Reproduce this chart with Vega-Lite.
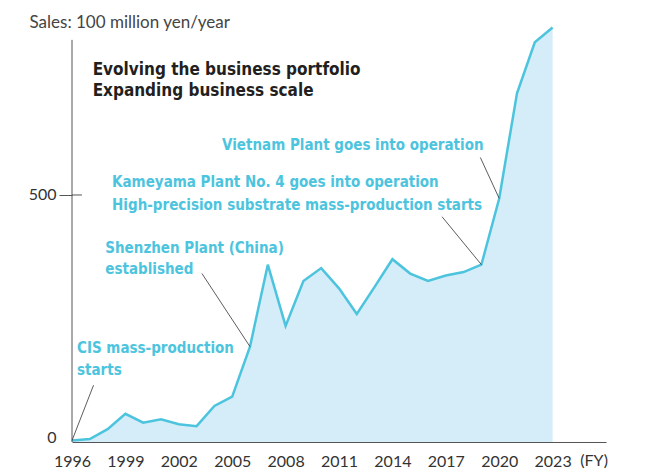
{
  "$schema": "https://vega.github.io/schema/vega-lite/v6.json",
  "width": 534,
  "height": 412,
  "autosize": "none",
  "padding": {"left": 72, "top": 30, "right": 40, "bottom": 28},
  "background": "white",
  "config": {"view": {"stroke": null}},
  "datasets": {
    "sales": [
      {"year": 1996, "sales": 3}, {"year": 1997, "sales": 6}, {"year": 1998, "sales": 26},
      {"year": 1999, "sales": 57}, {"year": 2000, "sales": 39}, {"year": 2001, "sales": 46},
      {"year": 2002, "sales": 36}, {"year": 2003, "sales": 32}, {"year": 2004, "sales": 73},
      {"year": 2005, "sales": 92}, {"year": 2006, "sales": 193}, {"year": 2007, "sales": 359},
      {"year": 2008, "sales": 235}, {"year": 2009, "sales": 326}, {"year": 2010, "sales": 352},
      {"year": 2011, "sales": 311}, {"year": 2012, "sales": 259}, {"year": 2013, "sales": 314},
      {"year": 2014, "sales": 370}, {"year": 2015, "sales": 341}, {"year": 2016, "sales": 326},
      {"year": 2017, "sales": 337}, {"year": 2018, "sales": 344}, {"year": 2019, "sales": 359},
      {"year": 2020, "sales": 493}, {"year": 2021, "sales": 706}, {"year": 2022, "sales": 809},
      {"year": 2023, "sales": 839}
    ],
    "leaders": [
      {"x": 1996, "y": 3, "x2": 1997.21, "y2": 115},
      {"x": 2003.3, "y": 341, "x2": 2006, "y2": 193},
      {"x": 2016.79, "y": 456, "x2": 2019, "y2": 359},
      {"x": 2018.94, "y": 576, "x2": 2020, "y2": 493}
    ],
    "notes": [
      {"x": 1996.28, "y": 190, "label": "CIS mass-production"},
      {"x": 1996.28, "y": 146, "label": "starts"},
      {"x": 1997.87, "y": 392, "label": "Shenzhen Plant (China)"},
      {"x": 1997.87, "y": 350, "label": "established"},
      {"x": 1998.25, "y": 527, "label": "Kameyama Plant No. 4 goes into operation"},
      {"x": 1998.25, "y": 480, "label": "High-precision substrate mass-production starts"},
      {"x": 2004.43, "y": 601, "label": "Vietnam Plant goes into operation"}
    ],
    "heading": [
      {"x": 1997.16, "y": 753, "label": "Evolving the business portfolio"},
      {"x": 1997.16, "y": 710, "label": "Expanding business scale"}
    ]
  },
  "layer": [
    {
      "data": {"name": "sales"},
      "mark": {"type": "area", "color": "#d5ecf9"},
      "encoding": {
        "x": {
          "field": "year", "type": "quantitative",
          "scale": {"domain": [1996, 2026], "nice": false, "zero": false},
          "axis": {
            "values": [1996, 1999, 2002, 2005, 2008, 2011, 2014, 2017, 2020, 2023],
            "format": "d", "title": null, "grid": false, "ticks": false,
            "domainColor": "#555555", "domainWidth": 1,
            "labelFont": "Lato", "labelFontSize": 16, "labelColor": "#333333",
            "labelPadding": 11, "labelFlush": false
          }
        },
        "y": {
          "field": "sales", "type": "quantitative",
          "scale": {"domain": [0, 834], "nice": false},
          "axis": {
            "values": [0, 500], "grid": false, "domain": false,
            "tickSize": 13, "tickColor": {"condition": {"test": "datum.value === 0", "value": "transparent"}, "value": "#555555"},
            "labelFont": "Lato", "labelFontSize": 16, "labelColor": "#333333", "labelPadding": 3,
            "labelBaseline": {"condition": {"test": "datum.value === 0", "value": "alphabetic"}, "value": "middle"},
            "title": "Sales: 100 million yen/year", "titleAngle": 0, "titleAlign": "left",
            "titleBaseline": "middle", "titleX": -43, "titleY": -8,
            "titleFont": "Lato", "titleFontSize": 17, "titleFontWeight": "normal", "titleColor": "#444444"
          }
        }
      }
    },
    {
      "data": {"name": "sales"},
      "mark": {"type": "line", "color": "#4cc4dd", "strokeWidth": 2.5},
      "encoding": {
        "x": {"field": "year", "type": "quantitative"},
        "y": {"field": "sales", "type": "quantitative"}
      }
    },
    {
      "data": {"values": [{"x": 1996, "y": 0, "y2": 814}]},
      "mark": {"type": "rule", "color": "#555555", "strokeWidth": 1},
      "encoding": {
        "x": {"field": "x", "type": "quantitative"},
        "y": {"field": "y", "type": "quantitative"},
        "y2": {"field": "y2"}
      }
    },
    {
      "data": {"values": [{"x": 1996, "x2": 1996.56, "y": 500}]},
      "mark": {"type": "rule", "color": "#555555", "strokeWidth": 1},
      "encoding": {
        "x": {"field": "x", "type": "quantitative"},
        "x2": {"field": "x2"},
        "y": {"field": "y", "type": "quantitative"}
      }
    },
    {
      "data": {"name": "leaders"},
      "mark": {"type": "rule", "color": "#333333", "strokeWidth": 0.8},
      "encoding": {
        "x": {"field": "x", "type": "quantitative"},
        "y": {"field": "y", "type": "quantitative"},
        "x2": {"field": "x2"},
        "y2": {"field": "y2"}
      }
    },
    {
      "data": {"name": "notes"},
      "mark": {"type": "text", "align": "left", "baseline": "middle", "font": "DejaVu Sans Condensed", "fontWeight": "bold", "fontSize": 15, "color": "#4dc4de"},
      "encoding": {
        "x": {"field": "x", "type": "quantitative"},
        "y": {"field": "y", "type": "quantitative"},
        "text": {"field": "label"}
      }
    },
    {
      "data": {"name": "heading"},
      "mark": {"type": "text", "align": "left", "baseline": "middle", "font": "DejaVu Sans Condensed", "fontWeight": "bold", "fontSize": 17, "color": "#231f20"},
      "encoding": {
        "x": {"field": "x", "type": "quantitative"},
        "y": {"field": "y", "type": "quantitative"},
        "text": {"field": "label"}
      }
    },
    {
      "data": {"values": [{"x": 2025.33, "y": 0, "label": "(FY)"}]},
      "mark": {"type": "text", "align": "center", "baseline": "top", "dy": 11, "font": "Lato", "fontSize": 16, "color": "#333333"},
      "encoding": {
        "x": {"field": "x", "type": "quantitative"},
        "y": {"field": "y", "type": "quantitative"},
        "text": {"field": "label"}
      }
    }
  ]
}
